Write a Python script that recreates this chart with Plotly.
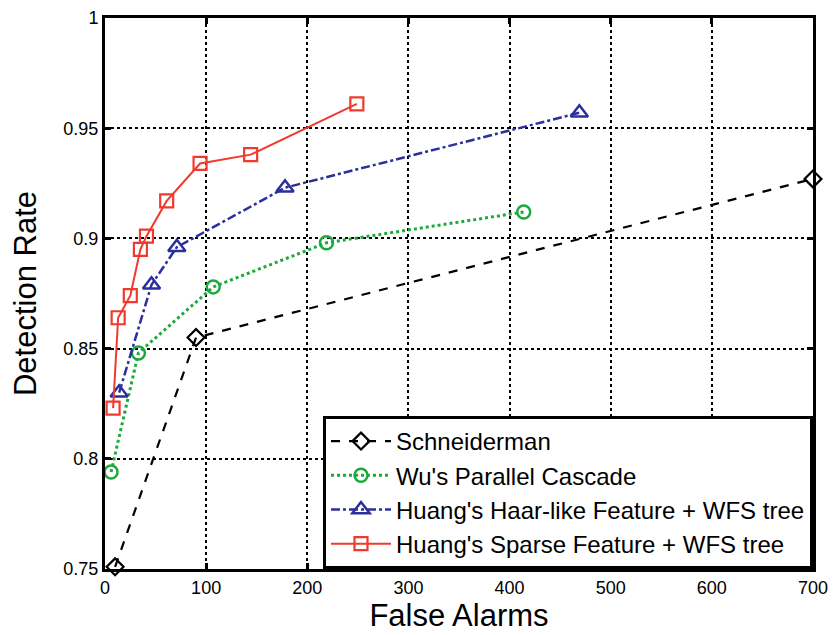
import plotly.graph_objects as go

# Data
schneiderman_x = [10, 90, 700]
schneiderman_y = [0.751, 0.855, 0.927]

wu_x = [6, 33, 107, 219, 414]
wu_y = [0.794, 0.848, 0.878, 0.898, 0.912]

haar_x = [14, 46, 71, 178, 469]
haar_y = [0.830, 0.879, 0.896, 0.923, 0.957]

sparse_x = [8, 13, 25, 35, 41, 61, 94, 144, 249]
sparse_y = [0.823, 0.864, 0.874, 0.895, 0.901, 0.917, 0.934, 0.938, 0.961]

x_ticks = [0, 100, 200, 300, 400, 500, 600, 700]
y_ticks = [0.75, 0.8, 0.85, 0.9, 0.95, 1.0]
y_tick_text = ["0.75", "0.8", "0.85", "0.9", "0.95", "1"]

FONT = "Liberation Sans, Arial, sans-serif"

fig = go.Figure()
fig.add_trace(go.Scatter(
    x=schneiderman_x, y=schneiderman_y, name="Schneiderman",
    mode="lines+markers",
    line=dict(color="black", width=2.2, dash="dash"),
    marker=dict(symbol="diamond-open", size=13, color="black", line=dict(width=2.2)),
    cliponaxis=False,
))
fig.add_trace(go.Scatter(
    x=wu_x, y=wu_y, name="Wu's Parallel Cascade",
    mode="lines+markers",
    line=dict(color="#1caa3c", width=3, dash="dot"),
    marker=dict(symbol="circle-open", size=13, color="#1caa3c", line=dict(width=2.5)),
    cliponaxis=False,
))
fig.add_trace(go.Scatter(
    x=haar_x, y=haar_y, name="Huang's Haar-like Feature + WFS tree",
    mode="lines+markers",
    line=dict(color="#2b2f9c", width=2.5, dash="dashdot"),
    marker=dict(symbol="triangle-up-open", size=15, color="#2b2f9c", line=dict(width=2.5)),
    cliponaxis=False,
))
fig.add_trace(go.Scatter(
    x=sparse_x, y=sparse_y, name="Huang's Sparse Feature + WFS tree",
    mode="lines+markers",
    line=dict(color="#f03a2e", width=2),
    marker=dict(symbol="square-open", size=13, color="#f03a2e", line=dict(width=2.2)),
    cliponaxis=False,
))

fig.update_layout(
    width=833, height=635,
    margin=dict(l=105, r=20, t=18, b=66, autoexpand=False),
    paper_bgcolor="white", plot_bgcolor="white",
    font=dict(family=FONT, color="black"),
    showlegend=True,
    legend=dict(
        x=1, y=0, xanchor="right", yanchor="bottom",
        bgcolor="white", bordercolor="black", borderwidth=3,
        font=dict(size=24, family=FONT),
        itemwidth=60, tracegroupgap=0,
    ),
    xaxis=dict(
        range=[0, 700], tickvals=x_ticks, automargin=False,
        showgrid=True, gridcolor="black", gridwidth=2, griddash="dot",
        showline=True, linecolor="black", linewidth=3, mirror="ticks",
        ticks="inside", ticklen=6, tickwidth=3, tickcolor="black",
        tickfont=dict(size=18), zeroline=False,
        title=dict(text="False Alarms", font=dict(size=31), standoff=8),
    ),
    yaxis=dict(
        range=[0.75, 1.0], tickvals=y_ticks, ticktext=y_tick_text, automargin=False,
        showgrid=True, gridcolor="black", gridwidth=2, griddash="dot",
        showline=True, linecolor="black", linewidth=3, mirror="ticks",
        ticks="inside", ticklen=6, tickwidth=3, tickcolor="black",
        tickfont=dict(size=18), zeroline=False,
        title=dict(text="Detection Rate", font=dict(size=31), standoff=18),
    ),
)

fig.write_html("out.html")
